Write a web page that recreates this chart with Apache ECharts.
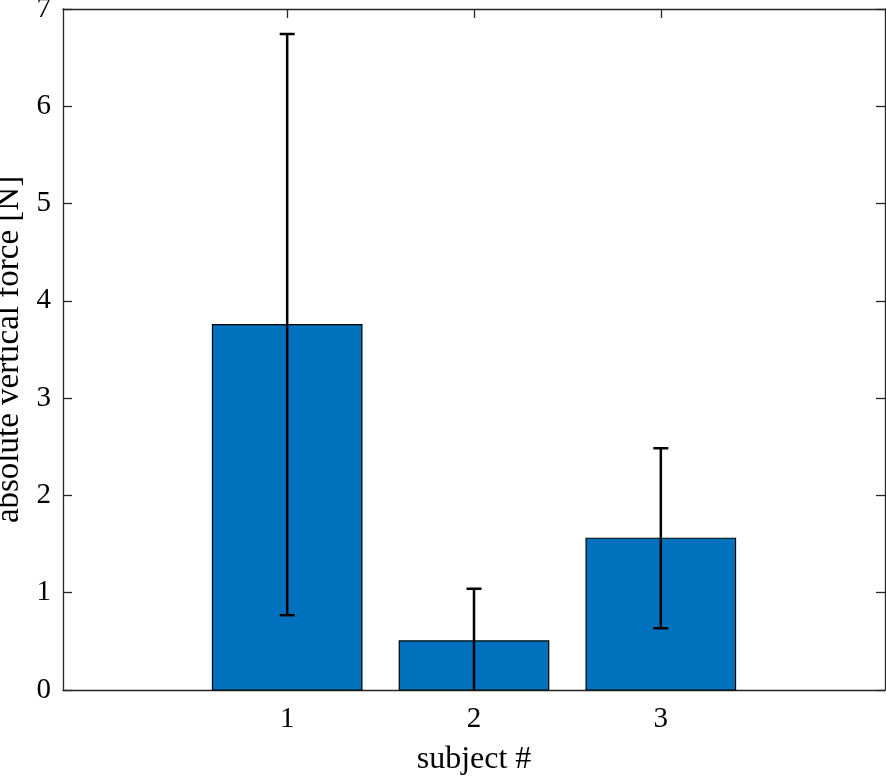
<!DOCTYPE html>
<html>
<head>
<meta charset="utf-8">
<script src="https://cdn.jsdelivr.net/npm/echarts@6/dist/echarts.min.js"></script>
<style>
  html, body { margin: 0; padding: 0; background: #fff; }
  #chart { width: 886px; height: 778px; }
</style>
</head>
<body>
<div id="chart"></div>
<script>
  // data
  var subjects = [1, 2, 3];
  var means = [3.756, 0.504, 1.56];
  var errs = [2.987, 0.537, 0.925];
  var yTicks = [0, 1, 2, 3, 4, 5, 6, 7];

  var axisColor = '#262626';
  var font = 'Liberation Serif';

  var chart = echarts.init(document.getElementById('chart'));

  var seriesData = subjects.map(function (s, i) {
    return [s, means[i], errs[i]];
  });

  function renderBar(params, api) {
    var x = api.value(0), y = api.value(1), e = api.value(2);
    var tl = api.coord([x - 0.4, y]);
    var br = api.coord([x + 0.4, 0]);
    var top = api.coord([x, y + e]);
    var low = y - e;
    var bot = api.coord([x, Math.max(low, 0)]);
    var cap = 7.5;
    var children = [
      {
        type: 'rect',
        shape: { x: tl[0], y: tl[1], width: br[0] - tl[0], height: br[1] - tl[1] },
        style: { fill: '#0072BD', stroke: '#000', lineWidth: 1.2 }
      },
      {
        type: 'line',
        shape: { x1: top[0], y1: top[1], x2: bot[0], y2: bot[1] },
        style: { stroke: '#000', lineWidth: 2.5 }
      },
      {
        type: 'line',
        shape: { x1: top[0] - cap, y1: top[1], x2: top[0] + cap, y2: top[1] },
        style: { stroke: '#000', lineWidth: 2.5 }
      }
    ];
    if (low >= 0) {
      children.push({
        type: 'line',
        shape: { x1: bot[0] - cap, y1: bot[1], x2: bot[0] + cap, y2: bot[1] },
        style: { stroke: '#000', lineWidth: 2.5 }
      });
    }
    return { type: 'group', children: children };
  }

  var tickStyle = { show: true, inside: true, length: 9, lineStyle: { color: axisColor, width: 1.3 } };

  chart.setOption({
    animation: false,
    grid: { left: 63, right: 1, top: 9, bottom: 88, outerBoundsMode: 'none' },
    xAxis: [
      {
        type: 'value', min: -0.2, max: 4.2, position: 'bottom',
        name: 'subject #', nameLocation: 'middle', nameGap: 54,
        nameTextStyle: { fontFamily: font, fontSize: 32, color: '#000' },
        axisLine: { show: true, onZero: false, lineStyle: { color: axisColor, width: 1.3 } },
        axisTick: Object.assign({ customValues: subjects }, tickStyle),
        axisLabel: { customValues: subjects, fontFamily: font, fontSize: 29, color: '#000', margin: 15 },
        splitLine: { show: false }
      },
      {
        type: 'value', min: -0.2, max: 4.2, position: 'top',
        axisLine: { show: true, onZero: false, lineStyle: { color: axisColor, width: 1.3 } },
        axisTick: Object.assign({ customValues: subjects }, tickStyle),
        axisLabel: { show: false },
        splitLine: { show: false }
      }
    ],
    yAxis: [
      {
        type: 'value', min: 0, max: 7, interval: 1, position: 'left',
        name: 'absolute vertical force [N]', nameLocation: 'middle', nameGap: 29,
        nameTextStyle: { fontFamily: font, fontSize: 33, color: '#000' },
        axisLine: { show: true, onZero: false, lineStyle: { color: axisColor, width: 1.3 } },
        axisTick: Object.assign({ customValues: yTicks }, tickStyle),
        axisLabel: { customValues: yTicks, fontFamily: font, fontSize: 29, color: '#000', margin: 12 },
        splitLine: { show: false }
      },
      {
        type: 'value', min: 0, max: 7, interval: 1, position: 'right',
        axisLine: { show: true, onZero: false, lineStyle: { color: axisColor, width: 1.3 } },
        axisTick: Object.assign({ customValues: yTicks }, tickStyle),
        axisLabel: { show: false },
        splitLine: { show: false }
      }
    ],
    series: [
      {
        type: 'custom',
        xAxisIndex: 0,
        yAxisIndex: 0,
        renderItem: renderBar,
        encode: { x: 0, y: [1] },
        data: seriesData,
        z: 1
      }
    ]
  });
</script>
</body>
</html>
